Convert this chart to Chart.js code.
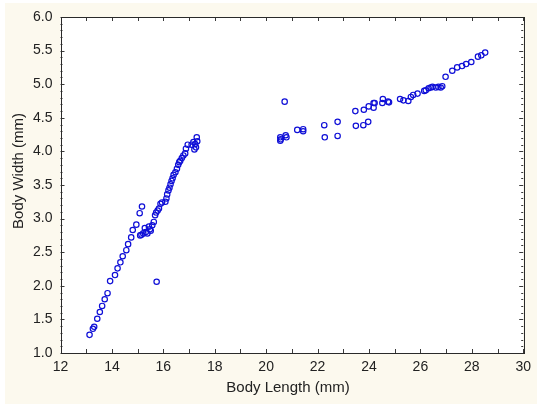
<!DOCTYPE html>
<html>
<head>
<meta charset="utf-8">
<script src="https://cdn.jsdelivr.net/npm/chart.js@4"></script>
<style>
  html, body { margin: 0; padding: 0; background: #ffffff; }
  #wrap { position: relative; width: 537px; height: 407px; }
  canvas { display: block; }
</style>
</head>
<body>
<div id="wrap"><canvas id="c" width="537" height="407"></canvas></div>
<script>
// Body length (mm) of each specimen
const bodyLength = [
  13.13, 13.26, 13.31, 13.43, 13.53, 13.62, 13.72, 13.83, 13.93, 14.12,
  14.22, 14.33, 14.42, 14.56, 14.63, 14.75, 14.81, 14.95, 15.08, 15.17,
  15.74,
  15.10, 15.15, 15.22, 15.28, 15.32, 15.38, 15.44, 15.48, 15.51, 15.57,
  15.63, 15.68, 15.72, 15.78, 15.83, 15.89, 15.95, 16.08, 16.12, 16.15,
  16.20, 16.24, 16.28, 16.32, 16.36, 16.40, 16.47, 16.53, 16.58, 16.62,
  16.66, 16.72, 16.78, 16.85, 16.88, 16.95, 17.10, 17.17, 17.21, 17.24,
  17.27, 17.30, 17.32,
  20.55, 20.57, 20.55, 20.72, 20.76, 20.79, 21.21, 21.44, 21.44, 22.26,
  22.28, 22.78, 22.78, 23.47, 23.49, 23.78, 23.80, 23.97, 23.99, 24.18,
  24.18, 24.22, 24.52, 24.54, 24.74, 24.78, 25.21, 25.34, 25.53, 25.63,
  25.72, 25.89, 26.15, 26.21, 26.32, 26.40, 26.47, 26.60, 26.70, 26.79,
  26.85, 26.98, 27.24, 27.43, 27.62, 27.78, 27.98, 28.24, 28.37, 28.52
];
// Body width (mm) of each specimen
const bodyWidth = [
  1.27, 1.36, 1.39, 1.51, 1.61, 1.70, 1.80, 1.89, 2.07, 2.16,
  2.26, 2.35, 2.44, 2.53, 2.62, 2.72, 2.83, 2.91, 3.08, 3.18,
  2.06,
  2.75, 2.76, 2.78, 2.86, 2.80, 2.78, 2.88, 2.84, 2.82, 2.90,
  2.95, 3.05, 3.09, 3.12, 3.15, 3.22, 3.24, 3.25, 3.30, 3.36,
  3.42, 3.46, 3.51, 3.56, 3.60, 3.65, 3.69, 3.74, 3.80, 3.84,
  3.86, 3.90, 3.94, 3.97, 4.04, 4.10, 4.10, 4.14, 4.03, 4.11,
  4.06, 4.21, 4.15,
  4.21, 4.18, 4.16, 4.74, 4.24, 4.21, 4.32, 4.33, 4.30, 4.39,
  4.21, 4.44, 4.23, 4.60, 4.38, 4.39, 4.62, 4.44, 4.67, 4.65,
  4.72, 4.72, 4.72, 4.78, 4.74, 4.73, 4.78, 4.76, 4.75, 4.81,
  4.84, 4.86, 4.90, 4.91, 4.94, 4.95, 4.96, 4.95, 4.96, 4.95,
  4.97, 5.11, 5.20, 5.25, 5.27, 5.30, 5.33, 5.41, 5.43, 5.47
];
const xRange = [12, 30];
const yRange = [1.0, 6.0];
const xLabelStep = 2;
const yLabelStep = 0.5;
const xTitle = 'Body Length (mm)';
const yTitle = 'Body Width (mm)';

const points = bodyLength.map((x, i) => ({ x: x, y: bodyWidth[i] }));
const fontFamily = 'Liberation Sans, Arial, sans-serif';

const framePlugin = {
  id: 'frame',
  beforeDraw(chart) {
    const ctx = chart.ctx;
    ctx.save();
    ctx.fillStyle = '#ffffff';
    ctx.fillRect(0, 0, chart.width, chart.height);
    ctx.fillStyle = '#fcf9ee';
    ctx.fillRect(5, 3, chart.width - 5, chart.height - 6);
    const a = chart.chartArea;
    ctx.fillStyle = '#ffffff';
    ctx.fillRect(a.left, a.top, a.right - a.left, a.bottom - a.top);
    ctx.restore();
  },
  afterDraw(chart) {
    const ctx = chart.ctx;
    const a = chart.chartArea;
    const xs = chart.scales.x, ys = chart.scales.y;
    ctx.save();
    ctx.strokeStyle = '#3a3a3a';
    ctx.lineWidth = 1;
    ctx.beginPath();
    for (let v = xRange[0]; v <= xRange[1] + 1e-9; v += 1) {
      const px = Math.round(xs.getPixelForValue(v)) + 0.5;
      ctx.moveTo(px, a.bottom); ctx.lineTo(px, a.bottom - 4);
      ctx.moveTo(px, a.top); ctx.lineTo(px, a.top + 4);
    }
    for (let k = 0; k <= Math.round((yRange[1] - yRange[0]) / 0.1); k++) {
      const v = yRange[0] + k * 0.1;
      const len = (k % 5 === 0) ? 4 : 2;
      const py = Math.round(ys.getPixelForValue(v)) + 0.5;
      ctx.moveTo(a.left, py); ctx.lineTo(a.left + len, py);
      ctx.moveTo(a.right, py); ctx.lineTo(a.right - len, py);
    }
    ctx.stroke();
    ctx.strokeStyle = '#2a2a2a';
    ctx.strokeRect(Math.round(a.left) + 0.5, Math.round(a.top) + 0.5,
                   Math.round(a.right - a.left), Math.round(a.bottom - a.top));
    // axis titles
    ctx.fillStyle = '#222';
    ctx.font = '15px ' + fontFamily;
    ctx.textAlign = 'center';
    ctx.textBaseline = 'middle';
    ctx.fillText(xTitle, 288, 388);
    ctx.translate(19, 171);
    ctx.rotate(-Math.PI / 2);
    ctx.fillText(yTitle, 0, 0);
    ctx.restore();
  }
};

const tickFont = { family: fontFamily, size: 14 };

new Chart(document.getElementById('c'), {
  type: 'scatter',
  data: {
    datasets: [{
      data: points,
      pointStyle: 'circle',
      pointRadius: 2.7,
      pointBorderWidth: 1.2,
      pointBorderColor: 'rgb(15,15,215)',
      pointBackgroundColor: 'rgba(0,0,0,0)',
      pointHoverRadius: 2.7
    }]
  },
  options: {
    responsive: false,
    animation: false,
    events: [],
    layout: { padding: { left: 0, top: 17, right: 9, bottom: 0 } },
    plugins: { legend: { display: false }, tooltip: { enabled: false } },
    scales: {
      x: {
        type: 'linear',
        min: xRange[0], max: xRange[1],
        grid: { display: false, drawTicks: false },
        border: { display: false },
        ticks: {
          stepSize: xLabelStep, padding: 6, color: '#222',
          font: tickFont, maxRotation: 0, autoSkip: false,
          callback: v => String(v)
        },
        title: { display: false },
        afterFit(s) { s.height = 54; }
      },
      y: {
        type: 'linear',
        min: yRange[0], max: yRange[1],
        grid: { display: false, drawTicks: false },
        border: { display: false },
        ticks: {
          stepSize: yLabelStep, padding: 8, color: '#222',
          font: tickFont, autoSkip: false,
          callback: v => Number(v).toFixed(1)
        },
        title: { display: false },
        afterFit(s) { s.width = 60.5; }
      }
    }
  },
  plugins: [framePlugin]
});
</script>
</body>
</html>
